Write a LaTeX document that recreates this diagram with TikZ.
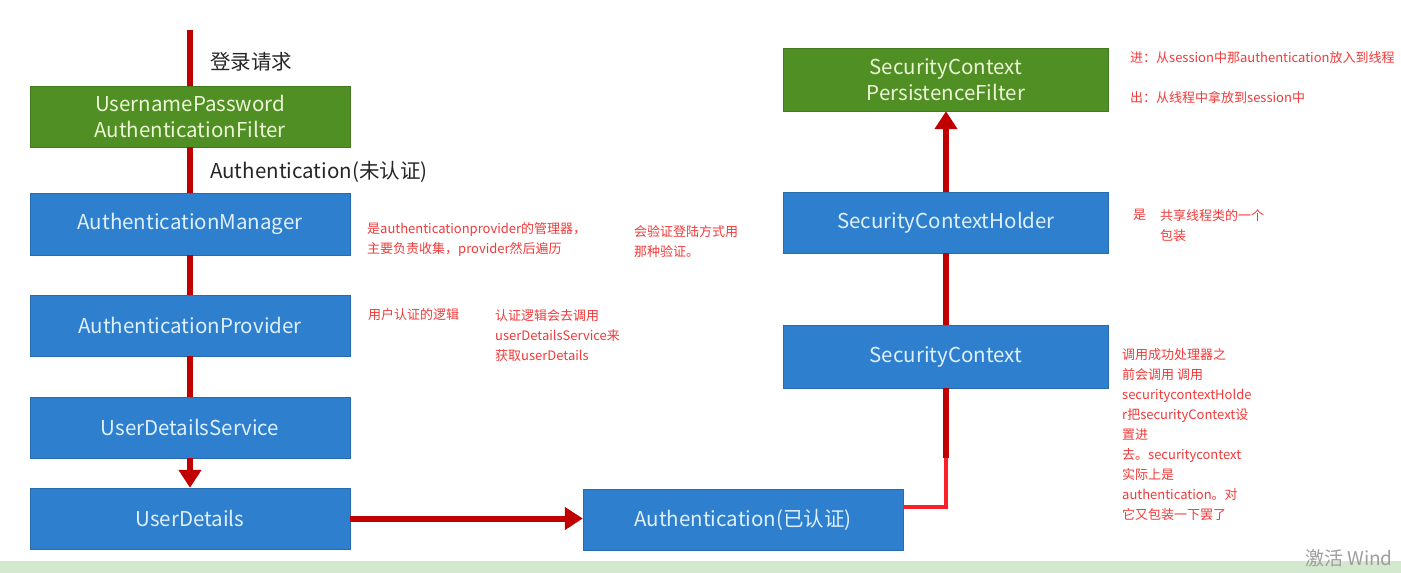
\documentclass[tikz,border=0pt]{standalone}
\usepackage{fontspec}
\setmainfont{Noto Sans CJK SC}
\usetikzlibrary{arrows.meta}

\definecolor{boxblue}{RGB}{47,127,207}
\definecolor{boxgreen}{RGB}{80,143,36}
\definecolor{bluetext}{RGB}{222,240,252}
\definecolor{greentext}{RGB}{236,246,214}
\definecolor{flowred}{RGB}{192,0,0}
\definecolor{hotred}{RGB}{250,32,40}
\definecolor{notered}{RGB}{242,58,58}
\definecolor{bandgreen}{RGB}{210,233,205}

\begin{document}
\begin{tikzpicture}[x=1pt,y=1pt,yscale=-1,
  bluebox/.style={draw=boxblue!85!black, fill=boxblue, text=bluetext, minimum width=320pt, minimum height=61pt, inner sep=0pt, align=center, font=\fontsize{20.5}{26}\selectfont},
  greenbox/.style={bluebox, draw=boxgreen!85!black, fill=boxgreen, text=greentext},
  flow/.style={draw=flowred, line width=6pt},
  flowtip/.style={flow, -{Triangle[width=22pt,length=18pt]}},
  hotline/.style={draw=hotred, line width=4pt},
  flowtext/.style={anchor=west, inner sep=0pt, text=black!85, font=\fontsize{20.5}{24}\selectfont},
  note/.style={anchor=north west, inner sep=0pt, text=notered, align=left, font=\fontsize{13}{20}\selectfont}
]
\useasboundingbox (0,0) rectangle (1401,573);
\fill [white] (0,0) rectangle (1401,573);
%Shape: bottom band
\fill [bandgreen] (0,561) rectangle (1401,573);

%Shape: left column
\node [greenbox] (upf) at (190,116.5) {UsernamePassword\\AuthenticationFilter};
\node [bluebox, minimum height=62pt] (mgr) at (190,224) {AuthenticationManager};
\node [bluebox] (prov) at (190,325.5) {AuthenticationProvider};
\node [bluebox] (uds) at (190,427.5) {UserDetailsService};
\node [bluebox] (ud) at (190,518.5) {UserDetails};

%Shape: bottom middle
\node [bluebox] (authok) at (743,520) {Authentication(已认证)};

%Shape: right column
\node [bluebox, minimum width=325pt, minimum height=63pt] (sc) at (946,356.5) {SecurityContext};
\node [bluebox, minimum width=325pt] (sch) at (946,222.5) {SecurityContextHolder};
\node [greenbox, minimum width=325pt, minimum height=63pt] (spf) at (946,79.5) {SecurityContext\\PersistenceFilter};

%Connectors
\coordinate (req) at (190,30);
\coordinate (turn) at (946,507);
\coordinate (join) at (946,458);
\draw [flow] (req) -- (upf.north);
\draw [flow] (upf) -- (mgr);
\draw [flow] (mgr) -- (prov);
\draw [flow] (prov) -- (uds);
\draw [flowtip] (uds) -- (ud);
\draw [flowtip] (ud) -- (ud -| authok.west);
\draw [hotline] (authok.east |- turn) -- (turn) -- (join);
\draw [flow] (join) -- (sc.south);
\draw [flow] (sc) -- (sch);
\draw [flowtip] (sch) -- (spf);

% Text Node
\node [flowtext] (reqtext) at (210,62) {登录请求};
% Text Node
\node [flowtext] (unauth) at (210,172) {Authentication(未认证)};

% Text Node
\node [note] (mgrnote) at (367,222) {是authenticationprovider的管理器，\\主要负责收集，provider然后遍历};
% Text Node
\node [note] (waynote) at (634,225) {会验证登陆方式用\\那种验证。};
% Text Node
\node [note] (provnote) at (368,308) {用户认证的逻辑};
% Text Node
\node [note] (udsnote) at (495,309) {认证逻辑会去调用\\userDetailsService来\\获取userDetails};
% Text Node
\node [note] (innote) at (1130,51) {进：从session中那authentication放入到线程};
% Text Node
\node [note] (outnote) at (1130,91) {出：从线程中拿放到session中};
% Text Node
\node [note] (isnote) at (1133,209) {是};
% Text Node
\node [note] (wrapnote) at (1160,209) {共享线程类的一个\\包装};
% Text Node
\node [note] (scnote) at (1122,348) {调用成功处理器之\\前会调用 调用\\securitycontextHolde\\r把securityContext设\\置进\\去。securitycontext\\实际上是\\authentication。对\\它又包装一下罢了};

% Text Node
\node [anchor=base west, inner sep=0pt, text=black!38, font=\fontsize{19}{22}\selectfont] (mark) at (1305,565) {激活 Wind};

\end{tikzpicture}
\end{document}
